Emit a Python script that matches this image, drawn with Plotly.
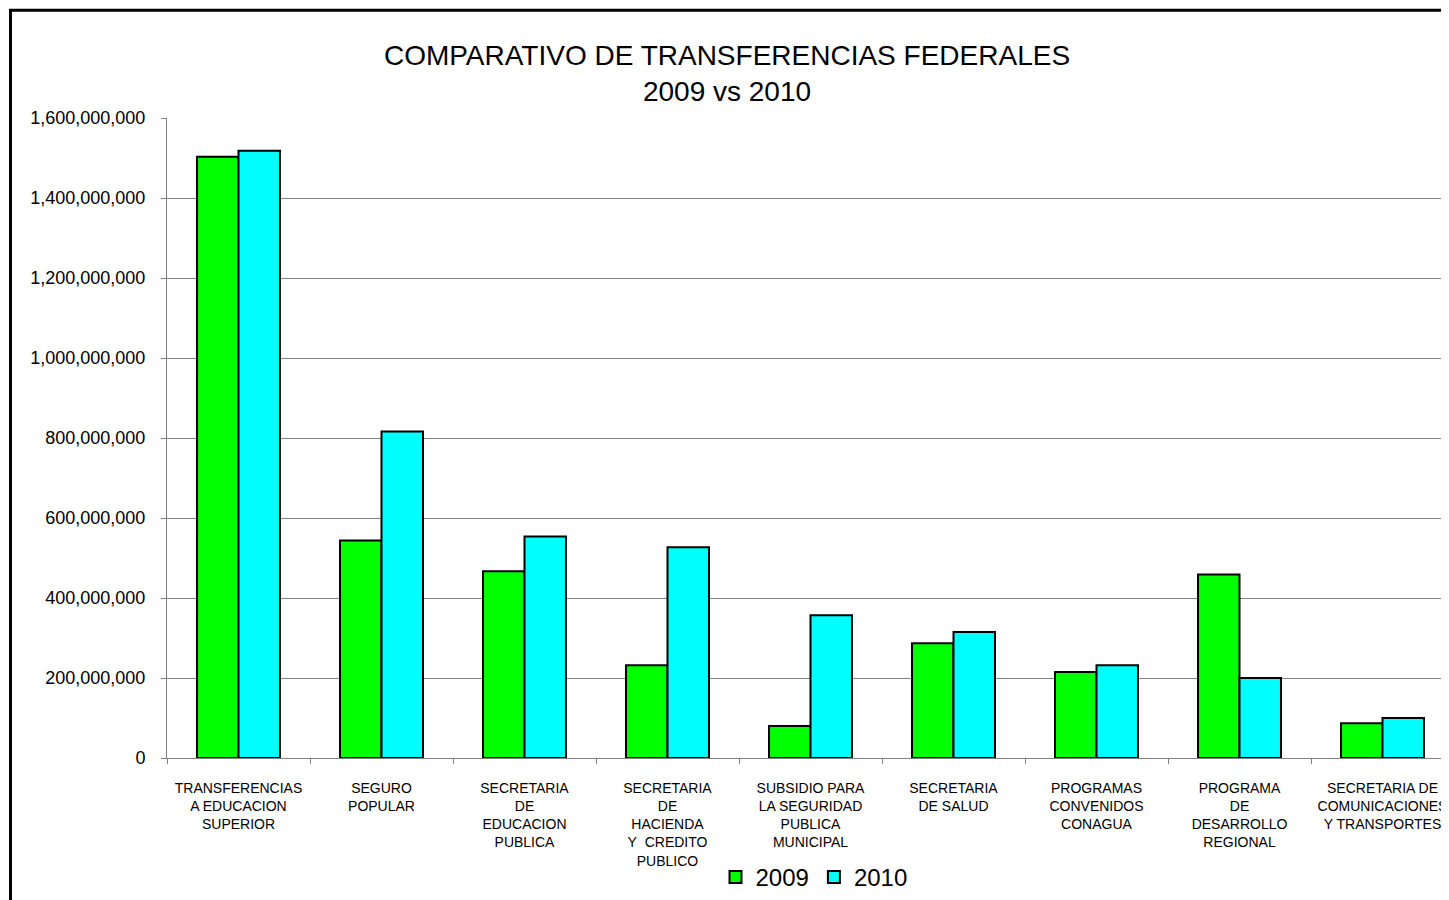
import plotly.graph_objects as go

categories = [
    "TRANSFERENCIAS<br>A EDUCACION<br>SUPERIOR",
    "SEGURO<br>POPULAR",
    "SECRETARIA<br>DE<br>EDUCACION<br>PUBLICA",
    "SECRETARIA<br>DE<br>HACIENDA<br>Y\u00a0 CREDITO<br>PUBLICO",
    "SUBSIDIO PARA<br>LA SEGURIDAD<br>PUBLICA<br>MUNICIPAL",
    "SECRETARIA<br>DE SALUD",
    "PROGRAMAS<br>CONVENIDOS<br>CONAGUA",
    "PROGRAMA<br>DE<br>DESARROLLO<br>REGIONAL",
    "SECRETARIA DE<br>COMUNICACIONES<br>Y TRANSPORTES",
]
values_2009 = [1503e6, 544e6, 467e6, 232e6, 80e6, 287e6, 215e6, 459e6, 87e6]
values_2010 = [1518e6, 816e6, 554e6, 527e6, 357e6, 315e6, 232e6, 200e6, 100e6]
y_ticks = [0, 200e6, 400e6, 600e6, 800e6, 1000e6, 1200e6, 1400e6, 1600e6]

FONT = "Liberation Sans, Arial, sans-serif"
OFF = 8  # page body margin
W, H = 1449 - OFF, 900 - OFF
L, T, B = 167 - OFF, 118 - OFF, 141
plot_w = W - L
plot_h = H - T - B

fig = go.Figure()
fig.add_trace(go.Bar(name="2009", x=categories, y=values_2009,
                     marker=dict(color="#00FF00", line=dict(color="black", width=2))))
fig.add_trace(go.Bar(name="2010", x=categories, y=values_2010,
                     marker=dict(color="#00FFFF", line=dict(color="black", width=2))))

# outer chart border (partly outside the visible page, as in the reference)
bx, by = 10.5 - OFF, 10 - OFF
fig.add_shape(type="rect", xref="paper", yref="paper",
              x0=(bx - L) / plot_w, x1=1.2,
              y0=-0.5, y1=(H - B - by) / plot_h,
              line=dict(color="black", width=3), fillcolor="rgba(0,0,0,0)", layer="above")

fig.update_layout(
    width=W, height=H,
    margin=dict(l=L, r=0, t=T, b=B),
    paper_bgcolor="white", plot_bgcolor="white",
    barmode="group", bargap=0.42, bargroupgap=0,
    font=dict(family=FONT, color="black"),
    title=dict(text="COMPARATIVO DE TRANSFERENCIAS FEDERALES<br>2009 vs 2010",
               x=(727 - OFF) / W, xref="container", xanchor="center",
               y=1 - 57 / H, yref="container", yanchor="top",
               font=dict(family=FONT, size=28, color="black")),
    legend=dict(orientation="h", x=(822 - 2 * OFF - L) / plot_w, xanchor="center",
                y=(H - B - (879 - OFF)) / plot_h, yanchor="middle",
                font=dict(family=FONT, size=24, color="black"),
                bgcolor="rgba(0,0,0,0)"),
    showlegend=True,
)
fig.update_xaxes(
    range=[-0.5, -0.5 + plot_w / 143],
    showline=True, linecolor="#808080", linewidth=1,
    ticks="outside", tickson="boundaries", ticklen=5, tickcolor="#808080",
    tickfont=dict(family=FONT, size=14, color="black"),
    tickangle=0, ticklabelstandoff=17,
    showgrid=False,
)
fig.update_yaxes(
    range=[0, 1600e6], tickvals=y_ticks, tickformat=",d",
    showline=True, linecolor="#808080", linewidth=1,
    ticks="outside", ticklen=5, tickcolor="#808080",
    tickfont=dict(family=FONT, size=18, color="black"),
    ticklabelstandoff=12,
    showgrid=True, gridcolor="#808080", gridwidth=1,
    zeroline=False,
)

fig.write_html("out.html")
